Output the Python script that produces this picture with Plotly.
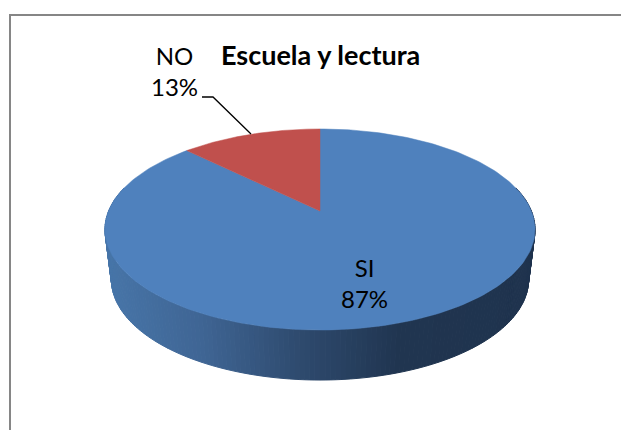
import numpy as np
import plotly.graph_objects as go

TITLE = "Escuela y lectura"
CATEGORIES = ["SI", "NO"]
VALUES = [87.4, 12.6]
COLORS = ["#4f81bd", "#c0504d"]
FONT = "Lato"

# perspective of the tilted disc, fitted to the picture
CX = 320.0
APEX_Y = 211.0
HALF_W = 211.4
TILT_K = 58.3
TILT_C = 0.184
DEPTH = 50.0
BOTTOM_SCALE = 0.97

# wall shading, left to right
WALL_X = [105, 200, 300, 400, 535]
WALL_R = [0x47, 0x3f, 0x2e, 0x20, 0x1f]
WALL_G = [0x75, 0x65, 0x4a, 0x35, 0x33]
WALL_B = [0xa8, 0x94, 0x6e, 0x50, 0x4e]


def project(theta):
    # theta runs clockwise from the back of the disc
    u, v = np.sin(theta), np.cos(theta)
    w = 1 + TILT_C * v
    return CX + HALF_W * u / w, (APEX_Y - TILT_K * v) / w


def wall_color(x):
    r = np.interp(x, WALL_X, WALL_R)
    g = np.interp(x, WALL_X, WALL_G)
    b = np.interp(x, WALL_X, WALL_B)
    return f"rgb({r:.0f},{g:.0f},{b:.0f})"


fig = go.Figure()

# side wall, as thin shaded bands under the top face
edges = np.linspace(np.pi * 0.42, np.pi * 1.58, 181)
for a, b in zip(edges[:-1], edges[1:]):
    ts = np.array([a, b])
    x, y = project(ts)
    xb = CX + (x - CX) * BOTTOM_SCALE
    yb = y + DEPTH
    color = wall_color(x.mean())
    fig.add_trace(
        go.Scatter(
            x=[x[0], x[1], xb[1], xb[0], x[0]],
            y=[y[0], y[1], yb[1], yb[0], y[0]],
            mode="lines",
            fill="toself",
            fillcolor=color,
            line=dict(width=1, color=color),
            hoverinfo="skip",
        )
    )

# top face slices, clockwise from twelve o'clock
shares = np.array(VALUES) / sum(VALUES)
stops = np.concatenate([[0], np.cumsum(shares)]) * 2 * np.pi
for name, start, end, color in zip(CATEGORIES, stops[:-1], stops[1:], COLORS):
    ts = np.linspace(start, end, 240)
    x, y = project(ts)
    fig.add_trace(
        go.Scatter(
            x=np.concatenate([[CX], x, [CX]]),
            y=np.concatenate([[APEX_Y], y, [APEX_Y]]),
            mode="lines",
            fill="toself",
            fillcolor=color,
            line=dict(width=0.5, color=color),
            name=name,
            hoverinfo="skip",
        )
    )

labels = [f"{c}<br>{v:.0f}%" for c, v in zip(CATEGORIES, VALUES)]
label_font = dict(size=24, color="black", family=FONT)
fig.add_annotation(x=364, y=283, text=labels[0], font=label_font)
fig.add_annotation(x=174, y=71, text=labels[1], font=label_font)
fig.add_annotation(x=320, y=54, text=f"<b>{TITLE}</b>", font=dict(size=27, color="black", family=FONT))
fig.update_annotations(
    showarrow=False,
    xref="x",
    yref="y",
    align="center",
)

# leader line and chart frame
fig.add_shape(type="path", path="M 202 97 L 213 97 L 251 134", line=dict(color="black", width=1.3))
fig.add_shape(type="path", path="M 621 15 L 10 15 L 10 430", line=dict(color="#868686", width=2))

fig.update_xaxes(range=[0, 621], visible=False, fixedrange=True)
fig.update_yaxes(range=[430, 0], visible=False, fixedrange=True)
fig.update_layout(
    width=621,
    height=430,
    margin=dict(l=0, r=0, t=0, b=0),
    showlegend=False,
    paper_bgcolor="white",
    plot_bgcolor="white",
)

fig.write_html(
    "out.html",
    config=dict(displayModeBar=False),
    post_script="document.body.style.margin='0';document.body.style.overflow='hidden';",
)
